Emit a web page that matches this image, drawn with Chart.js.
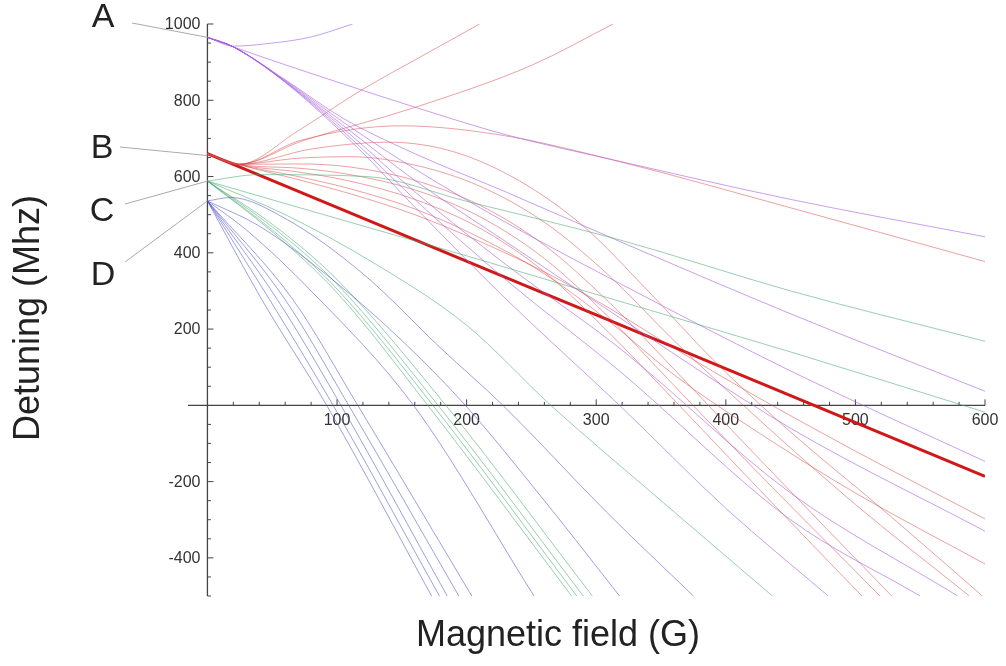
<!DOCTYPE html>
<html>
<head>
<meta charset="utf-8">
<script src="https://cdn.jsdelivr.net/npm/chart.js@4.4.0/dist/chart.umd.min.js"></script>
<style>
  html, body { margin: 0; padding: 0; background: #fff; }
  #wrap { width: 1006px; height: 666px; position: relative; }
</style>
</head>
<body>
<div id="wrap"><canvas id="chart" width="1006" height="666"></canvas></div>
<script>
// zero-field levels (MHz) of the four groups
const levelNames = ['A', 'B', 'C', 'D'];
const levelValues = [965, 655, 588, 536];

// tick labels
const xTickLabels = [100, 200, 300, 400, 500, 600];
const yTickLabels = [-400, -200, 200, 400, 600, 800, 1000];

// group A (purple) - [field G, detuning MHz]
const groupA = [
    [[0, 965], [20, 942], [50, 950], [80, 966], [112, 1000]],
    [[0, 965], [20, 940], [60, 893], [100, 848], [159, 783], [230, 710], [318, 640], [450, 540], [600, 442]],
    [[0, 965], [20, 940], [60, 854], [105, 752], [160, 660], [230, 560], [318, 430], [450, 240], [600, 37]],
    [[0, 965], [20, 940], [60, 852], [108, 735], [160, 620], [230, 480], [318, 320], [450, 90], [600, -147]],
    [[0, 965], [20, 940], [60, 850], [110, 720], [160, 590], [230, 430], [318, 230], [450, -60], [600, -330]],
    [[0, 965], [20, 940], [60, 849], [112, 705], [160, 560], [230, 370], [318, 150], [450, -230], [579, -500]],
    [[0, 965], [20, 940], [60, 848], [114, 690], [160, 540], [230, 330], [318, 90], [450, -300], [550, -500]],
    [[0, 965], [20, 940], [60, 847], [116, 675], [160, 520], [230, 280], [318, 0], [400, -270], [479, -500]]
];

// group B (red), the bold line first
const groupBBold = [[0, 660], [300, 237], [600, -186]];
const groupB = [
    [[0, 660], [24, 632], [70, 720], [118, 825], [165, 915], [210, 1000]],
    [[0, 660], [24, 632], [72, 692], [159, 780], [251, 893], [313, 1000]],
    [[0, 660], [24, 632], [72, 695], [149, 733], [226, 709], [318, 639], [450, 518], [600, 377]],
    [[0, 660], [24, 632], [80, 672], [140, 690], [190, 665], [240, 590], [290, 470], [340, 300], [390, 120], [450, -70], [520, -270], [598, -500]],
    [[0, 660], [24, 632], [70, 648], [110, 652], [160, 630], [210, 575], [260, 480], [310, 340], [360, 170], [420, -20], [500, -260], [588, -500]],
    [[0, 660], [24, 632], [70, 633], [110, 625], [160, 590], [210, 525], [260, 420], [310, 270], [360, 95], [420, -120], [528, -500]],
    [[0, 660], [24, 632], [70, 622], [110, 605], [160, 565], [210, 495], [260, 385], [310, 230], [355, 70], [420, -160], [519, -500]],
    [[0, 660], [24, 632], [70, 612], [110, 588], [160, 540], [210, 465], [260, 350], [310, 190], [350, 50], [420, -200], [505, -500]],
    [[0, 660], [24, 632], [70, 600], [110, 568], [160, 515], [210, 440], [260, 345], [310, 220], [360, 80], [420, -60], [500, -230], [600, -416]],
    [[0, 660], [24, 632], [70, 592], [110, 555], [160, 500], [210, 430], [260, 350], [310, 255], [360, 150], [420, 30], [500, -120], [600, -298]]
];

// group C (green)
const groupC = [
    [[0, 588], [40, 605], [123, 600], [200, 535], [318, 434], [450, 300], [600, 168]],
    [[0, 588], [100, 490], [200, 392], [295, 296], [450, 140], [600, -18]],
    [[0, 588], [60, 500], [130, 370], [200, 210], [265, 0], [350, -250], [436, -500]],
    [[0, 588], [50, 455], [100, 295], [170, 0], [281, -500]],
    [[0, 588], [50, 460], [100, 305], [174, 0], [285, -500]],
    [[0, 588], [50, 468], [100, 318], [178, 0], [290, -500]],
    [[0, 588], [50, 475], [100, 330], [184, 0], [297, -500]]
];

// group D (blue)
const groupD = [
    [[0, 536], [18, 545], [60, 490], [120, 345], [180, 150], [228, 0], [308, -280], [375, -500]],
    [[0, 536], [40, 470], [100, 320], [150, 170], [199, 0], [260, -250], [318, -500]],
    [[0, 536], [30, 460], [80, 300], [159, 0], [252, -500]],
    [[0, 536], [42, 277], [92, 0], [173, -500]],
    [[0, 536], [48, 277], [97, 0], [179, -500]],
    [[0, 536], [54, 277], [103, 0], [185, -500]],
    [[0, 536], [60, 277], [109, 0], [194, -500]],
    [[0, 536], [66, 277], [116, 0], [204, -500]]
];

const colorA = 'rgba(165, 95, 225, 0.6)';
const colorB = 'rgba(215, 70, 70, 0.5)';
const colorC = 'rgba(70, 165, 115, 0.55)';
const colorD = 'rgba(80, 80, 200, 0.55)';

function makeSet(curve, color, width) {
    return {
        data: curve.map(p => ({ x: p[0], y: p[1] })),
        borderColor: color,
        borderWidth: width,
        pointRadius: 0,
        fill: false,
        cubicInterpolationMode: 'monotone'
    };
}

const datasets = [];
groupD.forEach(c => datasets.push(makeSet(c, colorD, 1)));
groupC.forEach(c => datasets.push(makeSet(c, colorC, 1)));
groupA.forEach(c => datasets.push(makeSet(c, colorA, 1)));
groupB.forEach(c => datasets.push(makeSet(c, colorB, 1)));
datasets.push(makeSet(groupBBold, '#d01818', 3));

const fontFam = '"Liberation Sans", Arial, sans-serif';

// axes crossing at the origin, plus the A-D labels
const axesPlugin = {
    id: 'axesAtZero',
    beforeDatasetsDraw(chart) {
        const ctx = chart.ctx;
        const xs = chart.scales.x, ys = chart.scales.y;
        const area = chart.chartArea;
        const x0 = xs.getPixelForValue(0), y0 = ys.getPixelForValue(0);
        ctx.save();
        ctx.strokeStyle = '#444';
        ctx.lineWidth = 1.3;
        ctx.beginPath();
        ctx.moveTo(area.left, y0); ctx.lineTo(area.right, y0);
        ctx.moveTo(x0, area.top); ctx.lineTo(x0, area.bottom);
        ctx.stroke();

        ctx.lineWidth = 1;
        ctx.beginPath();
        for (let v = 20; v <= 600; v += 20) {
            const px = xs.getPixelForValue(v);
            const len = v % 100 === 0 ? 6 : 3.5;
            ctx.moveTo(px, y0); ctx.lineTo(px, y0 - len);
        }
        for (let v = -500; v <= 1000; v += 50) {
            if (v === 0) continue;
            const py = ys.getPixelForValue(v);
            const len = v % 200 === 0 ? 6 : 3.5;
            ctx.moveTo(x0, py); ctx.lineTo(x0 + len, py);
        }
        ctx.stroke();

        ctx.fillStyle = '#333';
        ctx.font = '16px ' + fontFam;
        ctx.textAlign = 'center';
        ctx.textBaseline = 'top';
        xTickLabels.forEach(v => ctx.fillText(String(v), xs.getPixelForValue(v), y0 + 7));
        ctx.textAlign = 'right';
        ctx.textBaseline = 'middle';
        yTickLabels.forEach(v => ctx.fillText(String(v), x0 - 7, ys.getPixelForValue(v) + 1));

        // axis titles
        ctx.fillStyle = '#222';
        ctx.font = '36px ' + fontFam;
        ctx.textAlign = 'center';
        ctx.textBaseline = 'middle';
        ctx.fillText('Magnetic field (G)', 558, 636);
        ctx.save();
        ctx.translate(29, 318);
        ctx.rotate(-Math.PI / 2);
        ctx.fillText('Detuning (Mhz)', 0, 0);
        ctx.restore();

        // level labels with leader lines
        const labelPos = [[103, 18, 132, 23], [102, 149, 120, 147], [102, 212, 125, 204], [103, 276, 125, 262]];
        ctx.font = '34px ' + fontFam;
        ctx.strokeStyle = '#aaa';
        ctx.lineWidth = 1;
        levelNames.forEach((name, i) => {
            const p = labelPos[i];
            ctx.fillStyle = '#222';
            ctx.fillText(name, p[0], p[1]);
            ctx.beginPath();
            ctx.moveTo(p[2], p[3]);
            ctx.lineTo(x0, ys.getPixelForValue(levelValues[i]));
            ctx.stroke();
        });
        ctx.restore();
    }
};

new Chart(document.getElementById('chart'), {
    type: 'line',
    data: { datasets: datasets },
    options: {
        responsive: false,
        animation: false,
        layout: { padding: { left: 188, right: 21, top: 24, bottom: 70 } },
        plugins: { legend: { display: false }, tooltip: { enabled: false } },
        scales: {
            x: { type: 'linear', min: -15, max: 600, display: false },
            y: { type: 'linear', min: -500, max: 1000, display: false }
        }
    },
    plugins: [axesPlugin]
});
</script>
</body>
</html>
